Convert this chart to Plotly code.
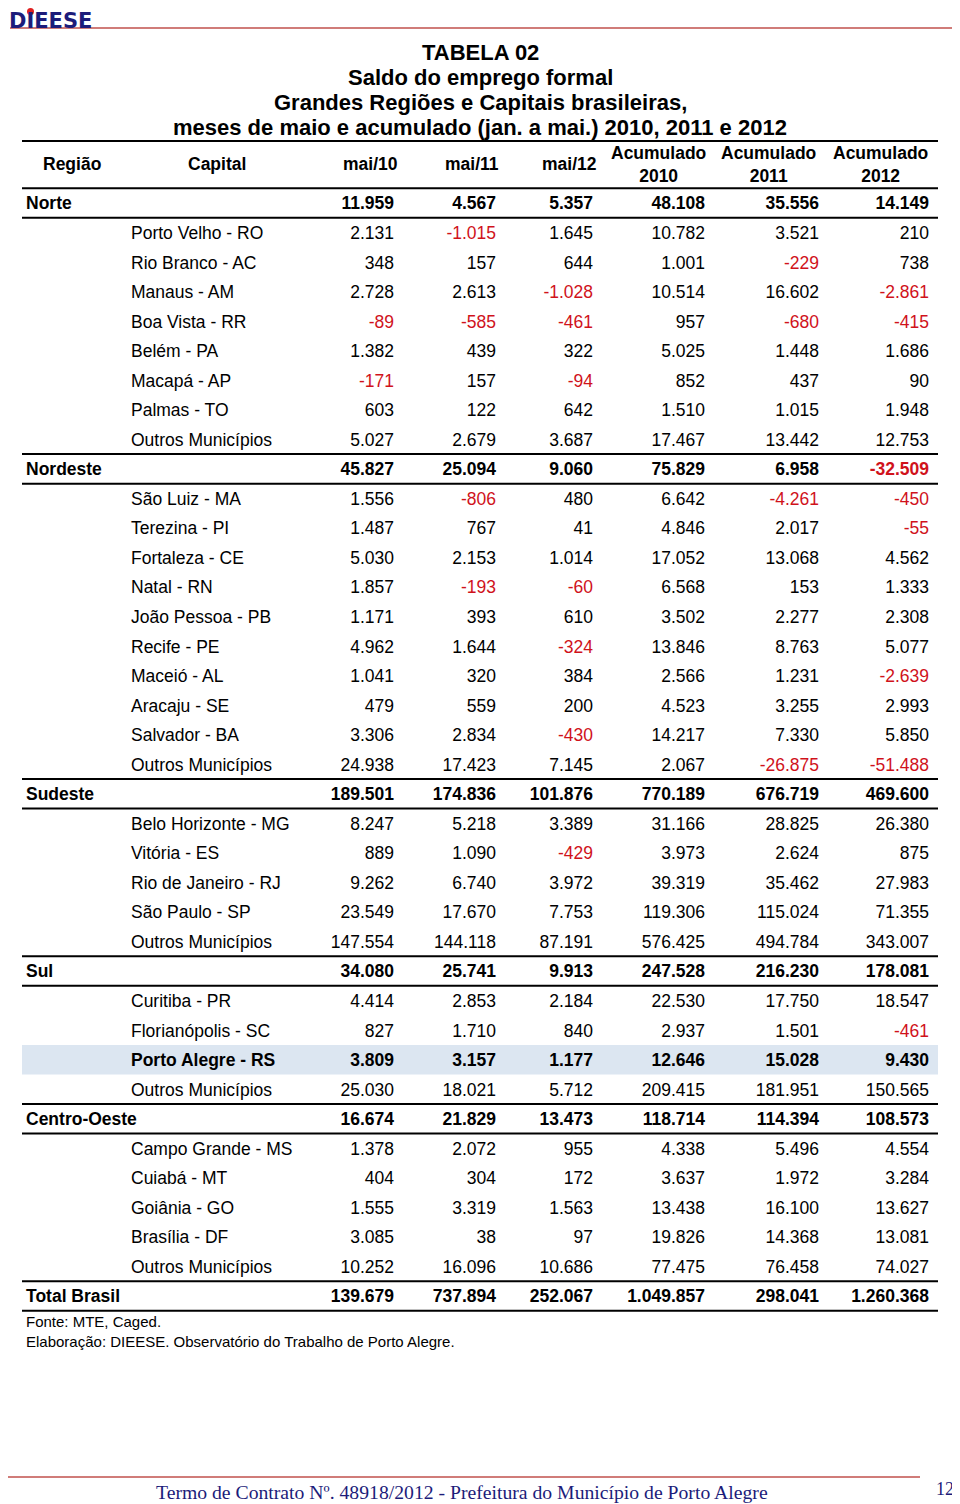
import plotly.graph_objects as go

# Saldo do emprego formal - DIEESE, tabela 02
regiao = ["Norte"] + [""] * 8 + ["Nordeste"] + [""] * 10 + ["Sudeste"] + [""] * 5 + \
         ["Sul"] + [""] * 4 + ["Centro-Oeste"] + [""] * 5 + ["Total Brasil"]
capital = ["", "Porto Velho - RO", "Rio Branco - AC", "Manaus - AM", "Boa Vista - RR", "Belém - PA",
           "Macapá - AP", "Palmas - TO", "Outros Municípios",
           "", "São Luiz - MA", "Terezina - PI", "Fortaleza - CE", "Natal - RN", "João Pessoa - PB",
           "Recife - PE", "Maceió - AL", "Aracaju - SE", "Salvador - BA", "Outros Municípios",
           "", "Belo Horizonte - MG", "Vitória - ES", "Rio de Janeiro - RJ", "São Paulo - SP", "Outros Municípios",
           "", "Curitiba - PR", "Florianópolis - SC", "Porto Alegre - RS", "Outros Municípios",
           "", "Campo Grande - MS", "Cuiabá - MT", "Goiânia - GO", "Brasília - DF", "Outros Municípios",
           ""]
mai10 = [11959, 2131, 348, 2728, -89, 1382, -171, 603, 5027,
         45827, 1556, 1487, 5030, 1857, 1171, 4962, 1041, 479, 3306, 24938,
         189501, 8247, 889, 9262, 23549, 147554,
         34080, 4414, 827, 3809, 25030,
         16674, 1378, 404, 1555, 3085, 10252,
         139679]
mai11 = [4567, -1015, 157, 2613, -585, 439, 157, 122, 2679,
         25094, -806, 767, 2153, -193, 393, 1644, 320, 559, 2834, 17423,
         174836, 5218, 1090, 6740, 17670, 144118,
         25741, 2853, 1710, 3157, 18021,
         21829, 2072, 304, 3319, 38, 16096,
         737894]
mai12 = [5357, 1645, 644, -1028, -461, 322, -94, 642, 3687,
         9060, 480, 41, 1014, -60, 610, -324, 384, 200, -430, 7145,
         101876, 3389, -429, 3972, 7753, 87191,
         9913, 2184, 840, 1177, 5712,
         13473, 955, 172, 1563, 97, 10686,
         252067]
acum10 = [48108, 10782, 1001, 10514, 957, 5025, 852, 1510, 17467,
          75829, 6642, 4846, 17052, 6568, 3502, 13846, 2566, 4523, 14217, 2067,
          770189, 31166, 3973, 39319, 119306, 576425,
          247528, 22530, 2937, 12646, 209415,
          118714, 4338, 3637, 13438, 19826, 77475,
          1049857]
acum11 = [35556, 3521, -229, 16602, -680, 1448, 437, 1015, 13442,
          6958, -4261, 2017, 13068, 153, 2277, 8763, 1231, 3255, 7330, -26875,
          676719, 28825, 2624, 35462, 115024, 494784,
          216230, 17750, 1501, 15028, 181951,
          114394, 5496, 1972, 16100, 14368, 76458,
          298041]
acum12 = [14149, 210, 738, -2861, -415, 1686, 90, 1948, 12753,
          -32509, -450, -55, 4562, 1333, 2308, 5077, -2639, 2993, 5850, -51488,
          469600, 26380, 875, 27983, 71355, 343007,
          178081, 18547, -461, 9430, 150565,
          108573, 4554, 3284, 13627, 13081, 74027,
          1260368]
headers = ["mai/10", "mai/11", "mai/12", "Acumulado<br>2010", "Acumulado<br>2011", "Acumulado<br>2012"]
destaque = "Porto Alegre - RS"

titulo = ["TABELA 02", "Saldo do emprego formal", "Grandes Regiões e Capitais brasileiras,",
          "meses de maio e acumulado (jan. a mai.) 2010, 2011 e 2012"]
fonte = ["Fonte: MTE, Caged.", "Elaboração: DIEESE. Observatório do Trabalho de Porto Alegre."]
rodape = "Termo de Contrato Nº. 48918/2012 - Prefeitura do Município de Porto Alegre"
pagina = "12"

# page is drawn with an 8px body margin, so the figure starts at (8, 8)
OFF = 8
W, H = 960 - OFF, 1504 - OFF
ROW0, ROW_H = 203, 29.54
TXT_DY = 0.07   # text sits a touch low in its row
SANS = "Liberation Sans, Arial, sans-serif"
SERIF = "Liberation Serif, Times New Roman, serif"
RED = "#d0121b"
NAVY = "#1c1c7a"
FS = 17.5

n = len(capital)
rows = list(range(n))
ty = [r + TXT_DY for r in rows]
hl = capital.index(destaque)
bold_rows = [i for i in rows if regiao[i] != "" or i == hl]


def fmt(v):
    s = f"{abs(v):,}".replace(",", ".")
    return "-" + s if v < 0 else s


def py(p):
    return 1 - (p - OFF) / H


def px(p):
    return (p - OFF) / W


def row_of(p):
    return (p - ROW0) / ROW_H


fig = go.Figure()

# region / capital labels
fig.add_trace(go.Scatter(
    x=[26] * n, y=ty, mode="text", textposition="middle right",
    text=[f"<b>{r}</b>" for r in regiao],
    textfont=dict(family=SANS, size=FS, color="black"), hoverinfo="skip"))
fig.add_trace(go.Scatter(
    x=[131] * n, y=ty, mode="text", textposition="middle right",
    text=[f"<b>{c}</b>" if i == hl else c for i, c in enumerate(capital)],
    textfont=dict(family=SANS, size=FS, color="black"), hoverinfo="skip"))

cols = [mai10, mai11, mai12, acum10, acum11, acum12]
col_right = [394, 496, 593, 705, 819, 929]
for vals, xr in zip(cols, col_right):
    txt = [f"<b>{fmt(v)}</b>" if i in bold_rows else fmt(v) for i, v in enumerate(vals)]
    fig.add_trace(go.Scatter(
        x=[xr] * n, y=ty, mode="text", textposition="middle left", text=txt,
        textfont=dict(family=SANS, size=FS, color=[RED if v < 0 else "black" for v in vals]),
        hoverinfo="skip"))

shapes = []
# highlighted row
shapes.append(dict(type="rect", xref="x", yref="y", x0=22, x1=938, y0=hl - 0.5, y1=hl + 0.5,
                   fillcolor="#dce6f1", line_width=0, layer="below"))
# horizontal rules
edges = {row_of(141), -0.5}
for i in rows:
    if regiao[i] != "":
        edges.add(i - 0.5)
        edges.add(i + 0.5)
for e in sorted(edges):
    shapes.append(dict(type="line", xref="x", yref="y", x0=22, x1=938, y0=e, y1=e,
                       line=dict(color="black", width=2)))
# red page lines
shapes.append(dict(type="line", xref="x", yref="paper", x0=10, x1=955, y0=py(28), y1=py(28),
                   line=dict(color="#c0504d", width=1.5)))
shapes.append(dict(type="line", xref="x", yref="paper", x0=5, x1=920, y0=py(1477), y1=py(1477),
                   line=dict(color="#c0504d", width=1.5)))

ann = []
ann.append(dict(x=0, y=py(8), xref="paper", yref="paper", text="<b>DIEESE</b>", showarrow=False,
                xanchor="left", yanchor="top", borderpad=0,
                font=dict(family="DejaVu Sans, sans-serif", size=21, color=NAVY)))
for k, t in enumerate(titulo):
    ann.append(dict(x=480, y=py(53 + 25 * k), xref="x", yref="paper", text=f"<b>{t}</b>",
                    showarrow=False, xanchor="center", yanchor="middle",
                    font=dict(family=SANS, size=22, color="black")))
hy = row_of(164)
ann.append(dict(x=72, y=hy, xref="x", yref="y", text="<b>Região</b>", showarrow=False,
                font=dict(family=SANS, size=17.5, color="black")))
ann.append(dict(x=217, y=hy, xref="x", yref="y", text="<b>Capital</b>", showarrow=False,
                font=dict(family=SANS, size=17.5, color="black")))
head_x = [370, 472, 569, 658, 768, 880]
for h, xc in zip(headers, head_x):
    ann.append(dict(x=xc, y=hy, xref="x", yref="y", text=f"<b>{h}</b>", showarrow=False,
                    font=dict(family=SANS, size=17.5, color="black")))
for k, t in enumerate(fonte):
    ann.append(dict(x=24, y=py(1321 + 20 * k), xref="x", yref="paper", text=t, showarrow=False,
                    xanchor="left", yanchor="middle", font=dict(family=SANS, size=15, color="black")))
ann.append(dict(x=462, y=py(1492), xref="x", yref="paper", text=rodape, showarrow=False,
                xanchor="center", yanchor="middle", font=dict(family=SERIF, size=19.7, color=NAVY)))
ann.append(dict(x=945, y=py(1489), xref="x", yref="paper", text=pagina, showarrow=False,
                xanchor="center", yanchor="middle", font=dict(family=SERIF, size=18, color=NAVY)))

fig.update_layout(
    width=W, height=H, margin=dict(l=0, r=0, t=0, b=0),
    paper_bgcolor="white", plot_bgcolor="white", showlegend=False,
    xaxis=dict(range=[OFF, 960], visible=False, fixedrange=True),
    yaxis=dict(range=[row_of(1504), row_of(OFF)], visible=False, fixedrange=True),
    shapes=shapes, annotations=ann,
)
# red dot of the logo, drawn over the text
fig.add_shape(type="circle", xref="paper", yref="paper", x0=px(27), x1=px(34), y0=py(15), y1=py(8),
              fillcolor="#e02020", line_width=0, layer="above")
fig.write_html("out.html")
